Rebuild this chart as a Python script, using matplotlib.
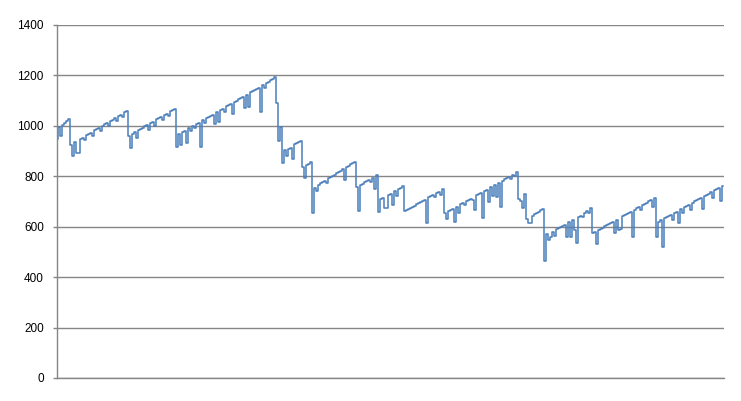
import matplotlib
matplotlib.use("Agg")
import matplotlib.pyplot as plt

# Balance series (one value every ~2 px along the x axis)
balance = [
    948, 995, 960, 1005, 1012, 1020, 1028,
    924, 880, 934, 892, 893, 948, 953, 942, 963, 967, 971, 958, 982,
    987, 991, 980, 1001, 1006, 1010, 998, 1020, 1025, 1030, 1018, 1040, 1045, 1035, 1055, 1060,
    960, 912, 969, 975, 952, 984, 988, 993, 998, 1002, 985, 1012, 1016, 1000,
    1026, 1031, 1035, 1022, 1045, 1049, 1038, 1059, 1063, 1066,
    915, 968, 925, 975, 980, 933, 992, 981, 1000, 990, 1008, 1013, 917, 1022,
    1010, 1031, 1036, 1040, 1045, 1008, 1054, 1015, 1063, 1068, 1054, 1077, 1082, 1086,
    1047, 1096, 1100, 1105, 1110, 1114, 1070, 1124, 1076, 1133, 1138, 1142, 1147, 1152,
    1054, 1161, 1152, 1170, 1175, 1180, 1185, 1192,
    1090, 941, 997, 851, 903, 880, 910, 914, 869, 928, 932, 937, 941,
    838, 792, 846, 850, 855,
    653, 752, 742, 767, 772, 777, 782, 775, 792, 797, 802, 807, 812, 817, 822, 827,
    785, 837, 842, 847, 852, 858,
    759, 662, 767, 771, 776, 780, 785, 778, 794, 748, 805,
    657, 708, 712, 673, 675, 726, 730, 685, 740, 720, 749, 754, 760,
    662, 666, 671, 675, 680, 684, 689, 693, 698, 702, 707, 613, 716, 720, 725, 719,
    734, 739, 726, 748,
    653, 629, 662, 666, 671, 620, 680, 653, 689, 693, 686, 702, 707, 711, 706, 666,
    725, 729, 734, 633, 743, 747, 699, 756, 720, 765, 719, 774, 679, 783, 788, 792,
    797, 790, 806, 800, 816,
    709, 703, 673, 729, 629, 616, 614, 644, 650, 655, 660, 665, 671,
    465, 570, 547, 560, 581, 563, 590, 594, 599, 603, 608, 560, 617, 560, 626, 587,
    537, 640, 644, 640, 653, 662, 655, 673,
    574, 578, 530, 587, 592, 596, 601, 605, 610, 614, 619, 574, 628, 587, 591, 641,
    646, 650, 655, 659, 560, 668, 673, 677, 666, 686, 691, 695, 700, 704, 680, 713,
    561, 617, 625, 521, 634, 638, 643, 647, 627, 656, 660, 614, 669, 653, 678, 682,
    687, 666, 696, 700, 705, 709, 714, 669, 722, 727, 731, 736, 713, 745, 749, 753,
    703, 761,
]
y_ticks = [0, 200, 400, 600, 800, 1000, 1200, 1400]

W, H = 741, 401
fig = plt.figure(figsize=(W / 100, H / 100), dpi=100)
ax = fig.add_axes([57 / W, 1 - 378 / H, (724 - 57) / W, 353 / H])

x = list(range(len(balance)))
ax.plot(x, balance, color="#4A7EBB", linewidth=1.1, drawstyle="steps-mid")

ax.set_xlim(0, 333.5)
ax.set_ylim(0, 1400)
ax.set_yticks(y_ticks)
ax.set_yticklabels([str(v) for v in y_ticks], fontfamily="Liberation Sans", fontsize=8.5, color="#000000")
ax.set_xticks([])

grid_col = "#868686"
ax.yaxis.grid(True, color=grid_col, linewidth=1.0)
ax.set_axisbelow(True)
for s in ["top", "right"]:
    ax.spines[s].set_visible(False)
ax.spines["left"].set_color(grid_col)
ax.spines["bottom"].set_color(grid_col)
ax.spines["left"].set_linewidth(1.0)
ax.spines["bottom"].set_linewidth(1.0)
ax.tick_params(axis="y", length=3, width=1.0, color=grid_col, pad=6.5)

fig.savefig("out.png", dpi=100)
